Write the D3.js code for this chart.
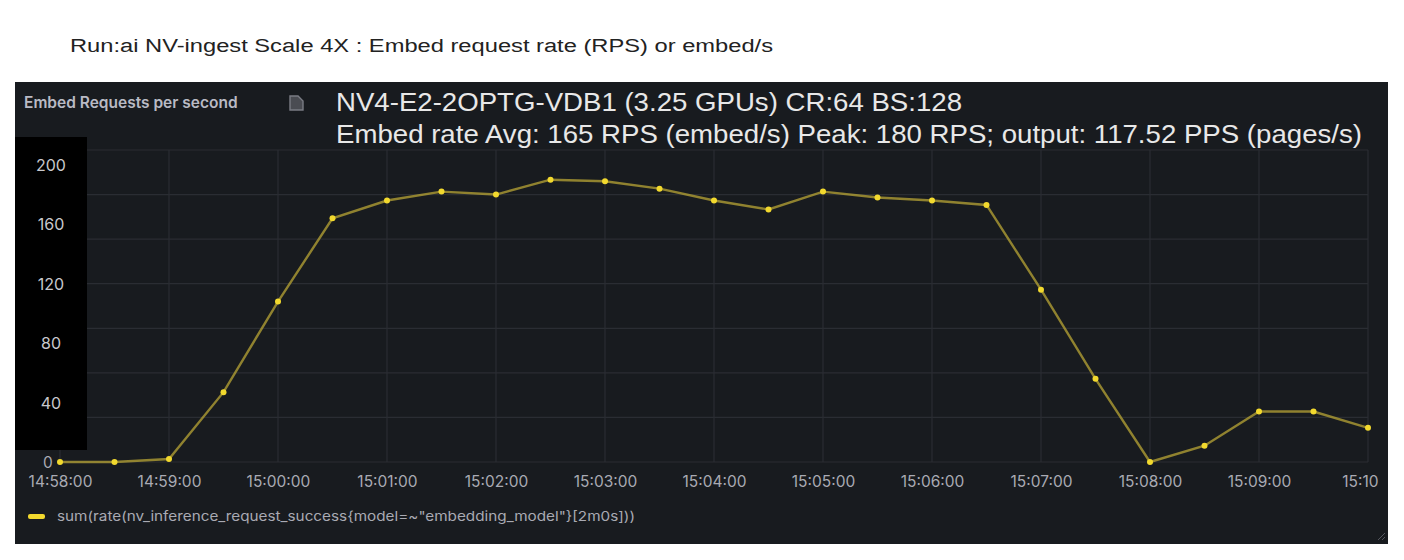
<!DOCTYPE html>
<html>
<head>
<meta charset="utf-8">
<script src="https://cdn.jsdelivr.net/npm/d3@7"></script>
<style>
  body { margin: 0; background: #fff; }
  svg { display: block; }
</style>
</head>
<body>
<script>
const width = 1404;
const height = 560;

// one sample every 30 s, 14:58:00 .. 15:10:00
const times = [
  "14:58:00", "14:58:30", "14:59:00", "14:59:30", "15:00:00", "15:00:30",
  "15:01:00", "15:01:30", "15:02:00", "15:02:30", "15:03:00", "15:03:30",
  "15:04:00", "15:04:30", "15:05:00", "15:05:30", "15:06:00", "15:06:30",
  "15:07:00", "15:07:30", "15:08:00", "15:08:30", "15:09:00", "15:09:30",
  "15:10:00"
];
const rps = [
  0, 0, 2, 47, 108, 164,
  176, 182, 180, 190, 189, 184,
  176, 170, 182, 178, 176, 173,
  116, 56, 0, 11, 34, 34,
  23
];
const xTicks = ["14:58:00", "14:59:00", "15:00:00", "15:01:00", "15:02:00", "15:03:00",
  "15:04:00", "15:05:00", "15:06:00", "15:07:00", "15:08:00", "15:09:00", "15:10:00"];
const xTickLabels = ["14:58:00", "14:59:00", "15:00:00", "15:01:00", "15:02:00", "15:03:00",
  "15:04:00", "15:05:00", "15:06:00", "15:07:00", "15:08:00", "15:09:00", "15:10"];
const gridValues = [0, 30, 60, 90, 120, 150, 180, 210];
const yLabels = [40, 80, 120, 160, 200];

const pageTitle = "Run:ai NV-ingest Scale 4X : Embed request rate (RPS) or embed/s";
const panelTitle = "Embed Requests per second";
const noteLine1 = "NV4-E2-2OPTG-VDB1 (3.25 GPUs) CR:64 BS:128";
const noteLine2 = "Embed rate Avg: 165 RPS (embed/s) Peak: 180 RPS; output: 117.52 PPS (pages/s)";
const legendText = "sum(rate(nv_inference_request_success{model=~\"embedding_model\"}[2m0s]))";

const parseTime = d3.timeParse("%H:%M:%S");
const data = times.map((t, i) => ({ t: parseTime(t), v: rps[i] }));

const svg = d3.select("body").append("svg")
  .attr("width", width)
  .attr("height", height);

const x = d3.scaleTime()
  .domain([parseTime("14:58:00"), parseTime("15:10:00")])
  .range([60, 1368]);

const y = d3.scaleLinear()
  .domain([0, 210])
  .range([462, 150]);

// page title
svg.append("text")
  .attr("x", 70).attr("y", 52)
  .attr("font-family", "Liberation Sans, Arial, sans-serif")
  .attr("font-size", 18)
  .attr("fill", "#222")
  .attr("textLength", 703)
  .attr("lengthAdjust", "spacingAndGlyphs")
  .text(pageTitle);

// panel
svg.append("rect")
  .attr("x", 15).attr("y", 82)
  .attr("width", 1373).attr("height", 462)
  .attr("fill", "#181b1f");

svg.append("text")
  .attr("x", 24).attr("y", 108)
  .attr("font-family", "Inter, sans-serif")
  .attr("font-size", 15.5)
  .attr("font-weight", 600)
  .attr("fill", "#b9bac4")
  .text(panelTitle);

// small panel icon
svg.append("path")
  .attr("d", "M290,96 h8 l5,5 v9 h-13 z")
  .attr("fill", "#4a4c52").attr("stroke", "#7a7c84").attr("stroke-width", 1.4);

// grid
svg.append("g")
  .selectAll("line")
  .data(gridValues)
  .join("line")
  .attr("x1", 60).attr("x2", 1368)
  .attr("y1", d => y(d)).attr("y2", d => y(d))
  .attr("stroke", "#2a2d33").attr("stroke-width", 1.2);

svg.append("g")
  .selectAll("line")
  .data(xTicks)
  .join("line")
  .attr("x1", d => x(parseTime(d))).attr("x2", d => x(parseTime(d)))
  .attr("y1", 150).attr("y2", 462)
  .attr("stroke", "#2a2d33").attr("stroke-width", 1.2);

// x axis labels
const xAxis = d3.axisBottom(x)
  .tickValues(xTicks.map(parseTime))
  .tickFormat((d, i) => xTickLabels[i])
  .tickSize(0)
  .tickPadding(14);

const gx = svg.append("g")
  .attr("transform", "translate(0,462)")
  .call(xAxis);
gx.select(".domain").remove();
gx.selectAll("text")
  .attr("font-family", "Inter, sans-serif")
  .attr("font-size", 15.5)
  .attr("fill", "#a9aab3");
// last label is kept inside the panel
gx.selectAll(".tick:last-of-type text")
  .attr("text-anchor", "end")
  .attr("dx", 10);

// original zero label
svg.append("text")
  .attr("x", 48).attr("y", y(0) + 6)
  .attr("text-anchor", "middle")
  .attr("font-family", "Inter, sans-serif")
  .attr("font-size", 15.5)
  .attr("fill", "#a9aab3")
  .text("0");

// black box pasted over the y axis
svg.append("rect")
  .attr("x", 15).attr("y", 137)
  .attr("width", 72).attr("height", 313)
  .attr("fill", "#000");

svg.append("g")
  .selectAll("text")
  .data(yLabels)
  .join("text")
  .attr("x", 51).attr("y", d => y(d) + 6)
  .attr("text-anchor", "middle")
  .attr("font-family", "Inter, sans-serif")
  .attr("font-size", 16)
  .attr("fill", "#c8c8cc")
  .text(d => d);

// series
const line = d3.line()
  .x(d => x(d.t))
  .y(d => y(d.v));

svg.append("path")
  .datum(data)
  .attr("d", line)
  .attr("fill", "none")
  .attr("stroke", "#b8a536")
  .attr("stroke-opacity", 0.75)
  .attr("stroke-width", 2.4);

svg.append("g")
  .selectAll("circle")
  .data(data)
  .join("circle")
  .attr("cx", d => x(d.t))
  .attr("cy", d => y(d.v))
  .attr("r", 3)
  .attr("fill", "#f2d92e");

// overlay notes
svg.append("text")
  .attr("x", 336).attr("y", 111)
  .attr("font-family", "Liberation Sans, Arial, sans-serif")
  .attr("font-size", 25)
  .attr("fill", "#e8e8e8")
  .attr("textLength", 626)
  .attr("lengthAdjust", "spacingAndGlyphs")
  .text(noteLine1);

svg.append("text")
  .attr("x", 336).attr("y", 143)
  .attr("font-family", "Liberation Sans, Arial, sans-serif")
  .attr("font-size", 25)
  .attr("fill", "#e8e8e8")
  .attr("textLength", 1026)
  .attr("lengthAdjust", "spacingAndGlyphs")
  .text(noteLine2);

// legend
svg.append("rect")
  .attr("x", 28).attr("y", 514)
  .attr("width", 17).attr("height", 5).attr("rx", 2)
  .attr("fill", "#f2d92e");

svg.append("text")
  .attr("x", 57).attr("y", 521)
  .attr("font-family", "Inter, sans-serif")
  .attr("font-size", 13.5)
  .attr("fill", "#a9aab3")
  .attr("textLength", 578)
  .attr("lengthAdjust", "spacingAndGlyphs")
  .text(legendText);

// resize corner
svg.append("path")
  .attr("d", "M1378,540 L1385,533 M1382,540 L1385,537")
  .attr("stroke", "#55575e").attr("stroke-width", 1);
</script>
</body>
</html>
